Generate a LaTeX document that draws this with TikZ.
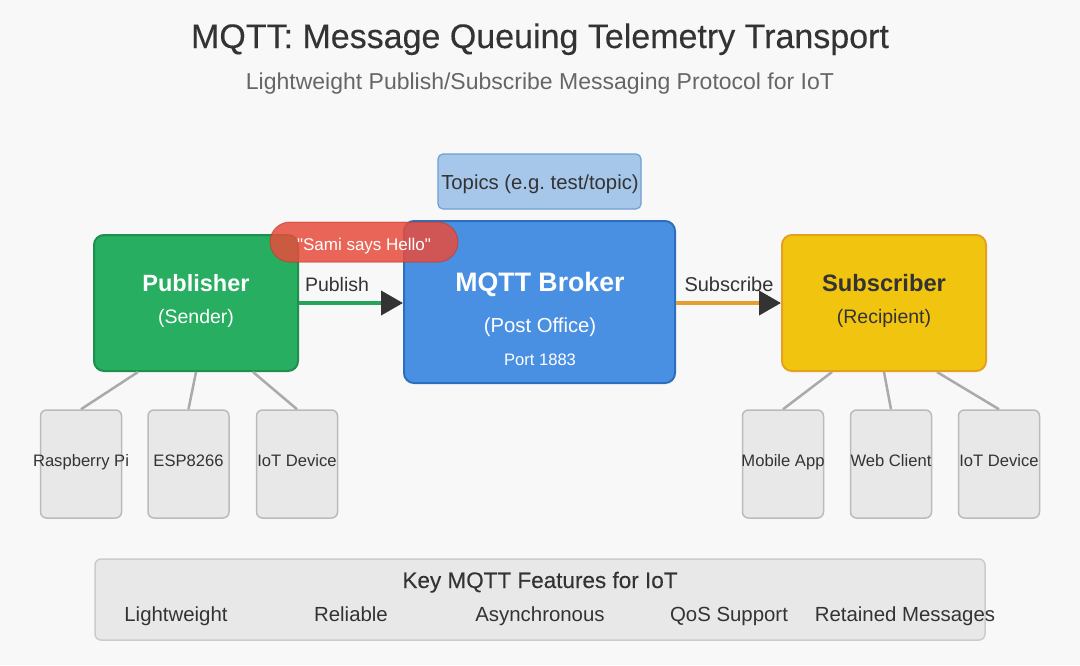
\documentclass[tikz,border=0pt]{standalone}
\usepackage{fontspec}
\setmainfont{Liberation Sans}
\newfontfamily\medfont[FakeBold=0.25]{Liberation Sans}
\usetikzlibrary{arrows.meta,calc}
\frenchspacing
\definecolor{bg}{HTML}{F8F8F8}
\definecolor{ink}{HTML}{333333}
\definecolor{subink}{HTML}{666666}
\definecolor{topicfill}{HTML}{A7C7EA}
\definecolor{topicdraw}{HTML}{6E9FD4}
\definecolor{pubfill}{HTML}{27AE60}
\definecolor{pubdraw}{HTML}{1F8F4D}
\definecolor{brkfill}{HTML}{4A90E2}
\definecolor{brkdraw}{HTML}{2C6FBF}
\definecolor{subfill}{HTML}{F1C40F}
\definecolor{subdraw}{HTML}{E6A020}
\definecolor{msgfill}{HTML}{E74C3C}
\definecolor{msgdraw}{HTML}{C0392B}
\definecolor{devfill}{HTML}{E8E8E8}
\definecolor{devdraw}{HTML}{BBBBBB}
\definecolor{featdraw}{HTML}{CCCCCC}
\definecolor{linkgray}{HTML}{AAAAAA}
\definecolor{publine}{HTML}{28A35A}
\definecolor{subline}{HTML}{E3A030}
\newcommand{\fs}[1]{\fontsize{#1}{#1}\selectfont}
\tikzset{
  box/.style={draw, line width=2pt, rounded corners=10pt, inner sep=0pt},
  devbox/.style={draw=devdraw, fill=devfill, line width=1.5pt, rounded corners=6pt, inner sep=0pt, minimum width=81pt, minimum height=108pt},
  txt/.style={inner sep=0pt, text=ink, anchor=base},
  wtxt/.style={inner sep=0pt, text=white, anchor=base},
  link/.style={draw=linkgray, line width=2.5pt},
  flow/.style={line width=4pt, -{Triangle[length=22pt,width=24pt,color=ink]}},
}
\begin{document}
\begin{tikzpicture}[x=1pt,y=-1pt]
\path[fill=bg] (0,0) rectangle (1080,665);
\useasboundingbox (0,0) rectangle (1080,665);

% titles
\node[txt] (title) at (540,48) {\fs{34}\medfont MQTT: Message Queuing Telemetry Transport};
\node[txt, text=subink] (subtitle) at (540,89) {\fs{23}Lightweight Publish/Subscribe Messaging Protocol for IoT};

% topics
\node[draw=topicdraw, fill=topicfill, line width=1.2pt, rounded corners=5pt, minimum width=203pt, minimum height=55pt, inner sep=0pt] (topics) at (539.5,181.5) {};
\node[txt] (topicstxt) at (540,189.5) {\fs{20.3}Topics (e.g.\ test/topic)};

% main boxes
\node[box, draw=pubdraw, fill=pubfill, minimum width=204pt, minimum height=136pt] (pub) at (196,303) {};
\node[box, draw=brkdraw, fill=brkfill, minimum width=271pt, minimum height=162pt] (brk) at (539.5,302) {};
\node[box, draw=subdraw, fill=subfill, minimum width=204pt, minimum height=136pt] (sub) at (884,303) {};

\node[wtxt] (pubt) at (196,291) {\fs{23.5}\bfseries Publisher};
\node[wtxt] (pubs) at (196,323) {\fs{19.5}(Sender)};
\node[wtxt] (brkt) at (540,291.5) {\fs{26.7}\bfseries MQTT Broker};
\node[wtxt] (brks) at (540,332) {\fs{20.3}(Post Office)};
\node[wtxt] (brkp) at (540,365) {\fs{16.6}Port 1883};
\node[txt] (subt) at (884,291) {\fs{23.7}\bfseries Subscriber};
\node[txt] (subs) at (884,323) {\fs{19.5}(Recipient)};

% flows
\draw[flow, draw=publine] (pub.east) -- (brk.west |- pub.east);
\draw[flow, draw=subline] (brk.east |- sub.west) -- (sub.west);
\node[txt] (publbl) at (337,291.5) {\fs{19.5}Publish};
\node[txt] (sublbl) at (729,291) {\fs{20}Subscribe};

% message pill
\node[draw=msgdraw, fill=msgfill, fill opacity=0.85, draw opacity=0.6, line width=1pt, rounded corners=20pt, minimum width=188pt, minimum height=40pt, inner sep=0pt] (msg) at (364,242) {};
\node[wtxt] (msgt) at (364,250) {\fs{17}\textquotedbl Sami says Hello\textquotedbl};

% publisher devices
\node[devbox] (d1) at (81,464) {};
\node[devbox] (d2) at (188.5,464) {};
\node[devbox] (d3) at (297,464) {};
\node[txt] (d1t) at (81,466) {\fs{16.6}Raspberry Pi};
\node[txt] (d2t) at (188.5,466) {\fs{16.6}ESP8266};
\node[txt] (d3t) at (297,466) {\fs{16.6}IoT Device};
\draw[link] ($(pub.south)+(-58,0)$) -- (d1.north);
\draw[link] (pub.south) -- (d2.north);
\draw[link] ($(pub.south)+(57,0)$) -- (d3.north);

% subscriber devices
\node[devbox] (s1) at (783,464) {};
\node[devbox] (s2) at (891,464) {};
\node[devbox] (s3) at (999,464) {};
\node[txt] (s1t) at (783,466) {\fs{16.6}Mobile App};
\node[txt] (s2t) at (891,466) {\fs{16.6}Web Client};
\node[txt] (s3t) at (999,466) {\fs{16.6}IoT Device};
\draw[link] ($(sub.south)+(-52,0)$) -- (s1.north);
\draw[link] (sub.south) -- (s2.north);
\draw[link] ($(sub.south)+(53,0)$) -- (s3.north);

% features
\node[draw=featdraw, fill=devfill, line width=1.5pt, rounded corners=6pt, minimum width=890pt, minimum height=81pt, inner sep=0pt] (feat) at (540,599.5) {};
\node[txt] (featt) at (540,588) {\fs{22.5}\medfont Key MQTT Features for IoT};
\node[txt] (f1) at (176,621) {\fs{20.4}Lightweight};
\node[txt] (f2) at (351,621) {\fs{20.4}Reliable};
\node[txt] (f3) at (540,621) {\fs{20.4}Asynchronous};
\node[txt] (f4) at (729,621) {\fs{20.4}QoS Support};
\node[txt] (f5) at (905,621) {\fs{20.4}Retained Messages};
\end{tikzpicture}
\end{document}
